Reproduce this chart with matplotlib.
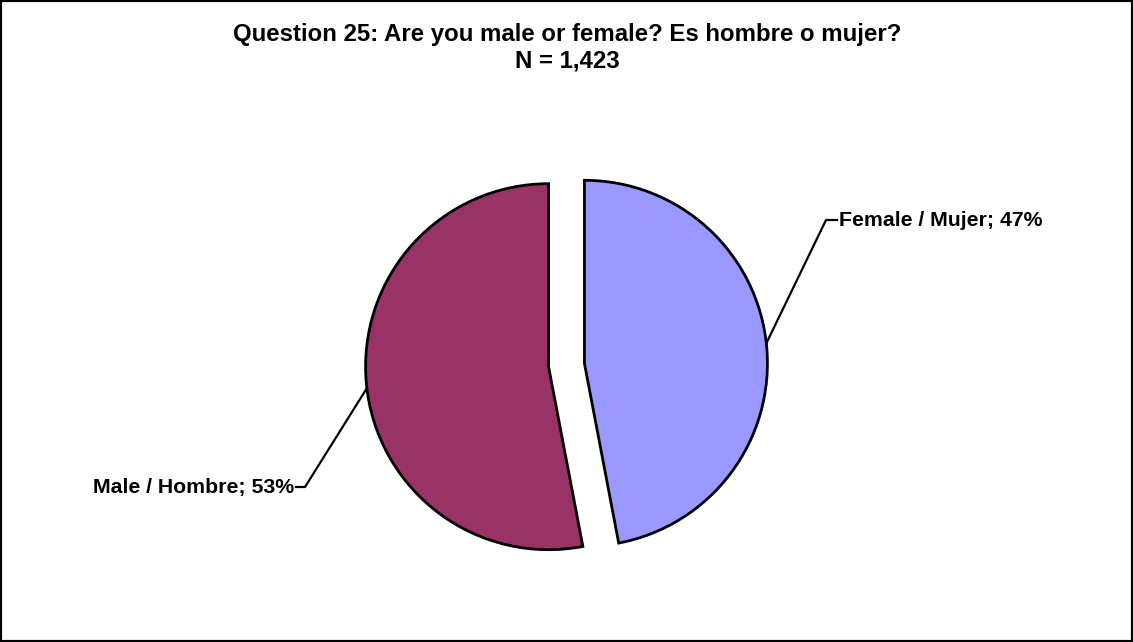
import matplotlib
matplotlib.use("Agg")
import matplotlib.pyplot as plt
from matplotlib.patches import Rectangle

plt.rcParams['font.family'] = ['Liberation Sans', 'DejaVu Sans']

labels = ['Female / Mujer', 'Male / Hombre']
shares = [47, 53]
colors = ['#9999FF', '#993366']

W, H = 1133, 642
fig = plt.figure(figsize=(W / 100, H / 100), dpi=100)
ax = fig.add_axes([0, 0, 1, 1])
ax.set_xlim(0, W)
ax.set_ylim(0, H)
ax.set_aspect('equal')
ax.axis('off')

# pie centre / radius in pixel units (y measured from bottom)
cx, cy, r = 566.5, H - 365, 183
ax.pie(shares, colors=colors, startangle=90, counterclock=False,
       center=(cx, cy), radius=r, explode=[18, 18],
       wedgeprops=dict(edgecolor='black', linewidth=2))
ax.set_xlim(0, W)
ax.set_ylim(0, H)

# leader lines and labels
ax.plot([766, 826, 837], [H - 344, H - 220, H - 220], color='black', lw=1.6)
ax.text(839, H - 221, f'{labels[0]}; {shares[0]}%', ha='left', va='center',
        fontsize=15.3, fontweight='bold')
ax.plot([367, 305, 296], [H - 388, H - 487, H - 487], color='black', lw=1.6)
ax.text(294, H - 488, f'{labels[1]}; {shares[1]}%', ha='right', va='center',
        fontsize=15.3, fontweight='bold')

ax.text(W / 2 + 1, H - 34, 'Question 25: Are you male or female? Es hombre o mujer?',
        ha='center', va='center', fontsize=17.3, fontweight='bold')
ax.text(W / 2 + 1, H - 61, 'N = 1,423', ha='center', va='center',
        fontsize=17.3, fontweight='bold')

fig.patches.append(Rectangle((0, 0), 1, 1, transform=fig.transFigure,
                             fill=False, edgecolor='black', linewidth=3))

fig.savefig('out.png', dpi=100)
